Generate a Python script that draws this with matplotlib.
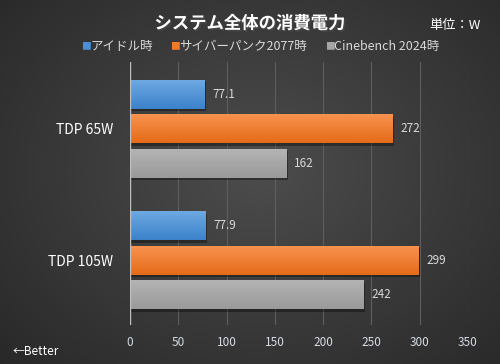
import numpy as np
import matplotlib
matplotlib.use("Agg")
import matplotlib.pyplot as plt
import matplotlib.patheffects as pe

plt.rcParams['font.family'] = ['Noto Sans CJK JP', 'DejaVu Sans']

categories = ["TDP 65W", "TDP 105W"]
series_names = ["アイドル時", "サイバーパンク2077時", "Cinebench 2024時"]
idle = [77.1, 77.9]
cyber = [272, 299]
cine = [162, 242]
value_labels = [["77.1", "77.9"], ["272", "299"], ["162", "242"]]
xticks = [0, 50, 100, 150, 200, 250, 300, 350]

top_cols = ["#6ea9e2", "#f8924f", "#b4b4b4"]
bot_cols = ["#3b82cb", "#e56b18", "#9a9a9a"]
leg_cols = ["#4a90d9", "#f07a2a", "#a5a5a5"]

fig = plt.figure(figsize=(5, 3.64), dpi=100)

# background radial gradient
bg = fig.add_axes([0, 0, 1, 1])
yy, xx = np.mgrid[0:364, 0:500]
r = np.sqrt(((xx - 260) / 330.0) ** 2 + ((yy - 170) / 260.0) ** 2)
v = np.clip(0.30 - 0.13 * r, 0.15, 0.30)
img = np.dstack([v, v, v])
bg.imshow(img, aspect='auto', extent=[0, 1, 0, 1])
bg.axis('off')

ax = fig.add_axes([0.26, 0.107, 0.676, 0.7225])
ax.set_facecolor('none')
ax.set_xlim(0, 350)
ax.set_ylim(1.494, -0.506)
for s in ax.spines.values():
    s.set_visible(False)
ax.axvline(0, color='#bfbfbf', lw=1.0, zorder=3)
for t in xticks[1:]:
    ax.axvline(t, color='#5e5e5e', lw=0.8, zorder=0)

offsets = [-0.262, 0.0, 0.262]
h = 0.22
series = [idle, cyber, cine]
grad = np.linspace(0, 1, 50).reshape(-1, 1)
for si, vals in enumerate(series):
    c1 = np.array(matplotlib.colors.to_rgb(top_cols[si]))
    c2 = np.array(matplotlib.colors.to_rgb(bot_cols[si]))
    gimg = c1[None, None, :] * (1 - grad[:, :, None]) + c2[None, None, :] * grad[:, :, None]
    for ci, val in enumerate(vals):
        y = ci + offsets[si]
        # shadow
        ax.barh(y + 0.02, val + 1.5, height=h, color='black', alpha=0.35, zorder=1, left=0)
        bars = ax.barh(y, val, height=h, color=bot_cols[si], zorder=2)
        ax.imshow(gimg, aspect='auto', extent=[0, val, y + h / 2, y - h / 2], zorder=2.5)
        ax.text(val + 8, y, value_labels[si][ci], va='center', ha='left',
                color='#d9d9d9', fontsize=8.5, zorder=4)

ax.set_xlim(0, 350)
ax.set_ylim(1.494, -0.506)
ax.set_yticks([0, 1])
ax.set_yticklabels(categories, color='white', fontsize=10)
ax.set_xticks(xticks)
ax.set_xticklabels([str(t) for t in xticks], color='#d5dce6', fontsize=8.5)
ax.tick_params(axis='both', length=0, pad=8)
ax.tick_params(axis='y', pad=12)

fig.text(0.5, 0.935, "システム全体の消費電力", ha='center', va='center', color='white',
         fontsize=12.5, fontweight='bold',
         path_effects=[pe.withSimplePatchShadow(offset=(1.2, -1.2), alpha=0.6)])
fig.text(0.91, 0.93, "単位：W", ha='center', va='center', color='white', fontsize=9.5)

legend_x = [0.162, 0.34, 0.65]
for i, name in enumerate(series_names):
    fig.text(legend_x[i], 0.873, "■", color=leg_cols[i], fontsize=7, ha='left', va='center')
    fig.text(legend_x[i] + 0.019, 0.873, name, color='#d9d9d9', fontsize=9, ha='left', va='center')

fig.text(0.025, 0.035, "←Better", color='white', fontsize=8.5, ha='left', va='center')

fig.savefig("out.png", dpi=100)
